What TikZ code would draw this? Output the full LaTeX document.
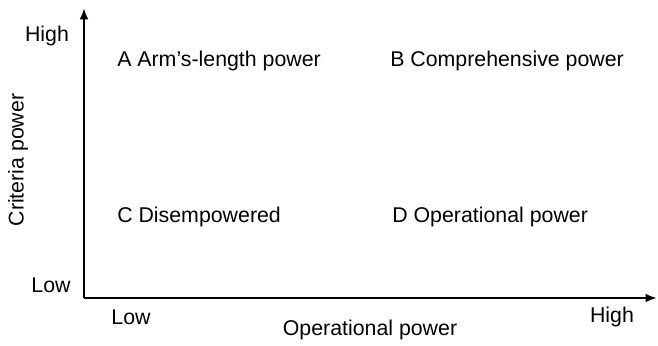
\documentclass[tikz,border=0pt]{standalone}
\usepackage{fontspec}
\setmainfont{Liberation Sans}
\usepackage{tikz}
\usetikzlibrary{arrows.meta, positioning}

\begin{document}
\begin{tikzpicture}[x=0.75pt,y=0.75pt,
        axis/.style={-{Latex[length=8.5pt,width=6.5pt]},line width=1.5pt},
        lbl/.style={font=\fontsize{16}{19}\selectfont,inner sep=0pt},
        quad/.style={lbl,anchor=west}]

        % Khung hình
        \useasboundingbox (0,0) rectangle (658,346);

        % Gốc và đầu các trục
        \coordinate (O) at (84,48);
        \coordinate (ytop) at (84,338);
        \coordinate (xend) at (657,48);

        % Vẽ trục
        \draw[axis] (O) -- (ytop); % Trục dọc
        \draw[axis] (O) -- (xend); % Trục ngang

        % Nhãn trục dọc
        \node[lbl] (yhigh) at (47,310) {High};
        \node[lbl] (ylow) at (51,61) {Low};
        \node[lbl,rotate=90] (ytitle) at (18,186) {Criteria power};

        % Nhãn trục ngang
        \node[lbl] (xlow) at (131,29) {Low};
        \node[lbl] (xhigh) at (612,29) {High};
        \node[lbl] (xtitle) at (370,16) {Operational power};

        % Bốn ô
        \node[quad] (qa) at (117,285) {A Arm's-length power};
        \node[quad] (qb) at (390,285) {B Comprehensive power};
        \node[quad] (qc) at (117,129) {C Disempowered};
        \node[quad] (qd) at (392,129) {D Operational power};

\end{tikzpicture}
\end{document}
